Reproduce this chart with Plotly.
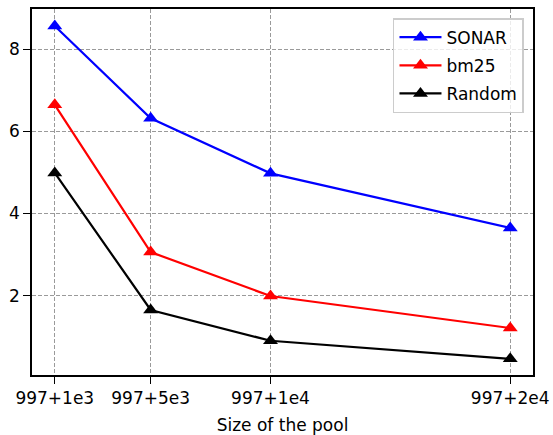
import plotly.graph_objects as go

pool_sizes = [1000, 5000, 10000, 20000]
tick_labels = ["997+1e3", "997+5e3", "997+1e4", "997+2e4"]
sonar = [8.57, 6.32, 4.98, 3.65]
bm25 = [6.65, 3.06, 1.99, 1.21]
random_ = [4.99, 1.65, 0.90, 0.46]

series = [("SONAR", sonar, "#0000ff"), ("bm25", bm25, "#ff0000"), ("Random", random_, "#000000")]

fig = go.Figure()
for name, vals, col in series:
    fig.add_trace(go.Scatter(
        x=pool_sizes, y=vals, name=name, mode="lines+markers", legendgroup=name,
        line=dict(color=col, width=2.2),
        marker=dict(symbol="triangle-up", size=13, color=col),
    ))

font = dict(family="DejaVu Sans", size=17, color="black")
fig.update_layout(
    width=553, height=435,
    margin=dict(l=32, r=20, t=9, b=60),
    plot_bgcolor="white", paper_bgcolor="white",
    font=font,
    showlegend=True,
    legend=dict(x=0.982, y=0.975, xanchor="right", yanchor="top",
                bgcolor="rgba(255,255,255,0.8)", bordercolor="#cccccc", borderwidth=1.5,
                font=dict(family="DejaVu Sans", size=17), tracegroupgap=3, itemwidth=42),
)
grid = dict(showgrid=True, gridcolor="#9a9a9a", griddash="4px,2px", gridwidth=1, zeroline=False)
fig.update_xaxes(
    range=[50, 20950], tickvals=pool_sizes, ticktext=tick_labels,
    showline=True, linecolor="black", linewidth=1.5, mirror=True,
    ticks="outside", ticklen=7, tickwidth=1.3, tickcolor="black",
    automargin=False,
    title=dict(text="Size of the pool", font=dict(family="DejaVu Sans", size=17), standoff=12),
    **grid,
)
fig.update_yaxes(
    range=[0.065, 8.985], tickvals=[2, 4, 6, 8],
    showline=True, linecolor="black", linewidth=1.5, mirror=True,
    ticks="outside", ticklen=7, tickwidth=1.3, tickcolor="black",
    automargin=False,
    **grid,
)
fig.write_html("out.html")
